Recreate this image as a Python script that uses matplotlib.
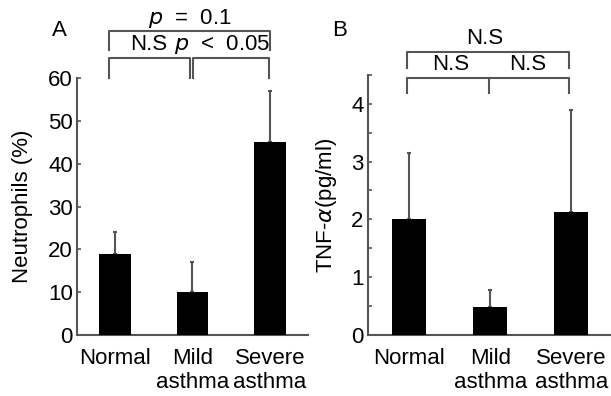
import matplotlib
matplotlib.use("Agg")
import matplotlib.pyplot as plt
from matplotlib.ticker import MultipleLocator

plt.rcParams['font.family'] = ['Liberation Sans', 'DejaVu Sans']

# Data
groups = ["Normal", "Mild\nasthma", "Severe\nasthma"]
neutrophils = [19, 10, 45]
neutrophils_err = [5, 7, 12]
tnf = [2.0, 0.48, 2.12]
tnf_err = [1.15, 0.29, 1.78]

axis_col = "#555555"
fs = 16

fig = plt.figure(figsize=(6.11, 3.96), dpi=100)


def style_axis(ax):
    for s in ["top", "right"]:
        ax.spines[s].set_visible(False)
    for s in ["left", "bottom"]:
        ax.spines[s].set_color(axis_col)
        ax.spines[s].set_linewidth(1.5)
    ax.tick_params(axis="y", direction="in", length=3, width=1.2, color=axis_col,
                   labelsize=fs, pad=3)
    ax.tick_params(axis="y", which="minor", direction="in", length=3, width=1.2, color=axis_col)
    ax.tick_params(axis="x", length=0, labelsize=fs, pad=9)


def bracket(ax, x0, x1, y, ylo0, ylo1):
    ax.plot([x0, x0, x1, x1], [ylo0, y, y, ylo1], color=axis_col, lw=1.5, clip_on=False)


x = list(range(len(groups)))

# Panel A
axA = fig.add_axes([0.126, 0.154, 0.378, 0.649])
axA.bar(x, neutrophils, width=0.41, color="black", zorder=3)
axA.errorbar(x, neutrophils, yerr=[[0] * 3, neutrophils_err], fmt="none",
             ecolor=axis_col, elinewidth=1.5, capsize=1.5, capthick=1.5, zorder=2)
axA.set_xlim(-0.49, 2.49)
axA.set_ylim(0, 60)
axA.set_yticks([0, 10, 20, 30, 40, 50, 60])
axA.set_xticks(x)
axA.set_xticklabels(groups, linespacing=1.2)
axA.set_ylabel("Neutrophils (%)", fontsize=fs, labelpad=11)
style_axis(axA)

bracket(axA, -0.08, 2.0, 71.0, 66.5, 66.5)
bracket(axA, -0.08, 0.97, 64.7, 60.0, 60.0)
bracket(axA, 1.01, 1.99, 64.7, 60.0, 60.0)
axA.text(0.97, 74.0, r"$\it{p}$  =  0.1", ha="center", va="center", fontsize=fs, clip_on=False)
axA.text(0.44, 67.9, "N.S", ha="center", va="center", fontsize=fs, clip_on=False)
axA.text(1.38, 67.9, r"$\it{p}$  <  0.05", ha="center", va="center", fontsize=fs, clip_on=False)

# Panel B
axB = fig.add_axes([0.602, 0.154, 0.398, 0.657])
axB.bar(x, tnf, width=0.42, color="black", zorder=3)
axB.errorbar(x, tnf, yerr=[[0] * 3, tnf_err], fmt="none",
             ecolor=axis_col, elinewidth=1.5, capsize=1.5, capthick=1.5, zorder=2)
axB.set_xlim(-0.51, 2.49)
axB.set_ylim(0, 4.5)
axB.set_yticks([0, 1, 2, 3, 4])
axB.yaxis.set_minor_locator(MultipleLocator(0.5))
axB.set_xticks(x)
axB.set_xticklabels(groups, linespacing=1.2)
axB.set_ylabel(r"TNF-$\alpha$(pg/ml)", fontsize=fs, labelpad=9)
style_axis(axB)

bracket(axB, -0.03, 1.97, 4.90, 4.62, 4.62)
bracket(axB, -0.03, 1.97, 4.45, 4.19, 4.19)
axB.plot([0.99, 0.99], [4.45, 4.19], color=axis_col, lw=1.5, clip_on=False)
axB.text(0.93, 5.12, "N.S", ha="center", va="center", fontsize=fs, clip_on=False)
axB.text(0.51, 4.68, "N.S", ha="center", va="center", fontsize=fs, clip_on=False)
axB.text(1.46, 4.68, "N.S", ha="center", va="center", fontsize=fs, clip_on=False)

fig.text(59 / 611, 1 - 31 / 396, "A", ha="center", va="center", fontsize=fs)
fig.text(340 / 611, 1 - 30 / 396, "B", ha="center", va="center", fontsize=fs)

fig.savefig("out.png", dpi=100)
